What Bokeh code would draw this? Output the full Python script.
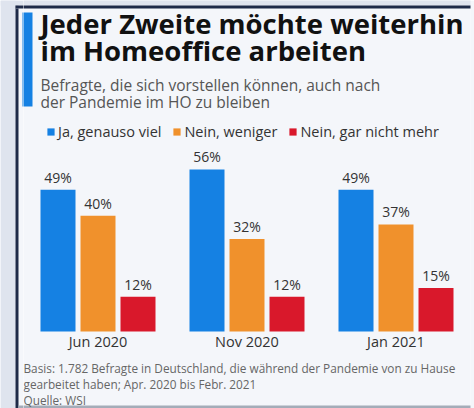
from bokeh.plotting import figure
from bokeh.layouts import row
from bokeh.models import (ColumnDataSource, FactorRange, Range1d, Label, BoxAnnotation,
                          Legend, LegendItem)
from bokeh.transform import dodge
from bokeh.embed import file_html
from bokeh.resources import INLINE
from bokeh.core.properties import value

# ---- data ----
categories = ["Jun 2020", "Nov 2020", "Jan 2021"]
series_names = ["Ja, genauso viel", "Nein, weniger", "Nein, gar nicht mehr"]
ja_genauso = [49, 56, 49]
nein_weniger = [40, 32, 37]
nein_gar_nicht = [12, 12, 15]

title_lines = ["Jeder Zweite möchte weiterhin", "im Homeoffice arbeiten"]
subtitle_lines = ["Befragte, die sich vorstellen können, auch nach",
                  "der Pandemie im HO zu bleiben"]
footnote_lines = ["Basis: 1.782 Befragte in Deutschland, die während der Pandemie von zu Hause",
                  "gearbeitet haben; Apr. 2020 bis Febr. 2021",
                  "Quelle: WSI"]

colors = ["#1581e3", "#f0912c", "#d9182b"]
FONT = "Open Sans"
CARD = "#f4f6fa"
OUTER = "#dfe4ee"
NAVY = "#1e2a48"
ACCENT = "#1581e3"
BOTTOM_LINE = "#a4acb8"

# ---------------- left decoration strip ----------------
left = figure(width=23, height=408, output_backend="svg", toolbar_location=None,
              x_range=Range1d(0, 23), y_range=Range1d(408, 0),
              x_axis_location=None, y_axis_location=None,
              min_border=0, min_border_left=0, min_border_right=0,
              min_border_top=0, min_border_bottom=0)
left.border_fill_color = CARD
left.background_fill_color = CARD
left.outline_line_color = None
left.grid.visible = False
left.quad(left=[0, 15, 15, 0, 15, 22, 18], right=[15, 18, 23, 23, 23, 23, 23],
          top=[0, 5, 5, 0, 5, 12, 405], bottom=[408, 408, 8, 5, 8, 106, 408],
          fill_color=[OUTER, NAVY, CARD, OUTER, NAVY, ACCENT, BOTTOM_LINE],
          line_color=None)

# ---------------- main chart ----------------
src = ColumnDataSource(dict(
    cat=categories,
    a=ja_genauso, b=nein_weniger, c=nein_gar_nicht,
    la=[f"{v}%" for v in ja_genauso],
    lb=[f"{v}%" for v in nein_weniger],
    lc=[f"{v}%" for v in nein_gar_nicht],
))

PX = 2.893  # pixels per percent point
p = figure(width=451, height=408, output_backend="svg", toolbar_location=None,
           x_range=FactorRange(*categories, range_padding=0),
           y_range=Range1d(-77 / PX, 331 / PX),
           x_axis_location=None, y_axis_location=None,
           min_border_left=0, min_border_right=4, min_border_top=0, min_border_bottom=0)
p.border_fill_color = CARD
p.background_fill_color = CARD
p.outline_line_color = None
p.grid.visible = False

offsets = [-0.2685, 0.0, 0.2685]
bw = 0.2349
items = []
for off, fld, lbl, col, name in zip(offsets, ["a", "b", "c"], ["la", "lb", "lc"], colors, series_names):
    r = p.vbar(x=dodge("cat", off, range=p.x_range), top=fld, width=bw, source=src,
               fill_color=col, line_color=None)
    p.text(x=dodge("cat", off, range=p.x_range), y=fld, text=lbl, source=src,
           text_align="center", text_baseline="bottom", y_offset=-3,
           text_font=value(FONT), text_font_size="14px", text_color="#333333")
    items.append(LegendItem(label=name, renderers=[r]))

# category labels under the groups (x through the factor scale)
p.text(x="cat", y=0, text="cat", source=src, text_align="center",
       text_baseline="middle", y_offset=10,
       text_font=value(FONT), text_font_size="14.5px", text_color="#333333")

legend = Legend(items=items, orientation="horizontal", location=(23, 267),
                glyph_width=9, glyph_height=9, label_standoff=3, spacing=11,
                padding=0, margin=0, border_line_color=None, background_fill_alpha=0,
                label_text_font=FONT, label_text_font_size="14.5px", label_text_color="#333333",
                label_height=20)
p.add_layout(legend, "center")

def sbox(l, r, b, t, color):
    p.add_layout(BoxAnnotation(left=l, right=r, bottom=b, top=t,
                               left_units="screen", right_units="screen",
                               bottom_units="screen", top_units="screen",
                               fill_color=color, fill_alpha=1, line_color=None, level="underlay"))

# card frame: outer band, navy top border, accent bar, bottom line
sbox(-1, 452, 403, 409, OUTER)
sbox(-1, 452, 400, 403, NAVY)
sbox(-1, 9, 302, 396, ACCENT)
sbox(-5, 452, -1, 3, BOTTOM_LINE)

title_y = [385, 358]
for t, yy in zip(title_lines, title_y):
    p.add_layout(Label(x=17, y=yy, x_units="screen", y_units="screen", text=t,
                       text_font=FONT, text_font_size="27.5px", text_font_style="bold",
                       text_color="#111111", text_baseline="alphabetic"))
sub_y = [324, 307]
for t, yy in zip(subtitle_lines, sub_y):
    p.add_layout(Label(x=17, y=yy, x_units="screen", y_units="screen", text=t,
                       text_font=FONT, text_font_size="15.5px",
                       text_color="#555555", text_baseline="alphabetic"))
foot_y = [41, 25, 9]
for t, yy in zip(footnote_lines, foot_y):
    p.add_layout(Label(x=0, y=yy, x_units="screen", y_units="screen", text=t,
                       text_font=FONT, text_font_size="11.8px",
                       text_color="#666666", text_baseline="alphabetic"))

layout = row(left, p, spacing=0)
open("out.html", "w").write(file_html(layout, INLINE))
